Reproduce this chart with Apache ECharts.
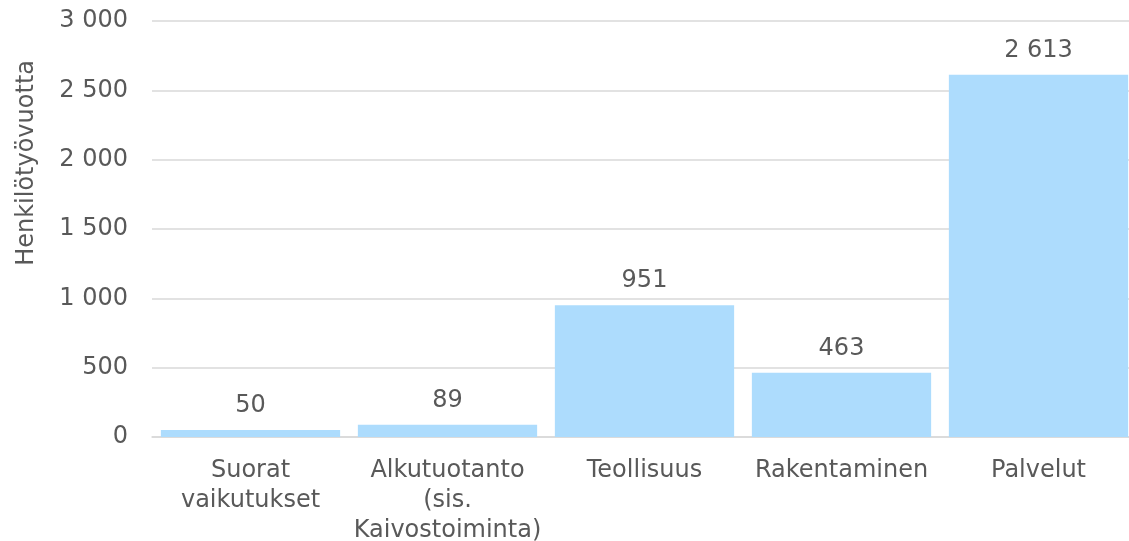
<!DOCTYPE html>
<html>
<head>
<meta charset="utf-8">
<script src="https://cdn.jsdelivr.net/npm/echarts@6.0.0/dist/echarts.min.js"></script>
<style>
  html, body { margin: 0; padding: 0; background: #fff; }
  #chart { width: 1129px; height: 541px; }
</style>
</head>
<body>
<div id="chart"></div>
<script>
// Luokat ja arvot (henkilötyövuotta)
const categories = ['Suorat\nvaikutukset', 'Alkutuotanto\n(sis.\nKaivostoiminta)', 'Teollisuus', 'Rakentaminen', 'Palvelut'];
const values = [50, 89, 951, 463, 2613];
const yTicks = [0, 500, 1000, 1500, 2000, 2500, 3000];
const yTitle = 'Henkilötyövuotta';

const FONT = '"DejaVu Sans", Verdana, sans-serif';
const TEXT = '#595959';
const SIZE = 24;

// tuhaterotin välilyönnillä
const fmt = v => String(v).replace(/\B(?=(\d{3})+(?!\d))/g, ' ');

const chart = echarts.init(document.getElementById('chart'));
chart.setOption({
  animation: false,
  // oikea reuna jatkuu hieman kuvan ulkopuolelle kuten alkuperäisessä
  grid: { left: 152, right: -8, top: 21, bottom: 104, outerBoundsMode: 'none' },
  graphic: [{
    type: 'text',
    left: 15,
    top: 60,
    rotation: Math.PI / 2,
    style: { text: yTitle, fill: TEXT, font: SIZE + 'px ' + FONT }
  }],
  xAxis: {
    type: 'category',
    data: categories,
    axisTick: { show: false },
    axisLine: { lineStyle: { color: '#d9d9d9', width: 1.5 } },
    axisLabel: { color: TEXT, fontFamily: FONT, fontSize: SIZE, lineHeight: 30, margin: 19, interval: 0 }
  },
  yAxis: {
    type: 'value',
    min: yTicks[0],
    max: yTicks[yTicks.length - 1],
    interval: 500,
    axisLine: { show: false },
    axisTick: { show: false },
    axisLabel: { color: TEXT, fontFamily: FONT, fontSize: SIZE, margin: 24, formatter: fmt },
    splitLine: { lineStyle: { color: '#d9d9d9', width: 1.5 } }
  },
  series: [{
    type: 'bar',
    data: values,
    barCategoryGap: '9%',
    itemStyle: { color: '#addcfd' },
    label: {
      show: true,
      position: 'top',
      distance: 12,
      color: TEXT,
      fontFamily: FONT,
      fontSize: SIZE,
      formatter: p => fmt(p.value)
    }
  }]
});
</script>
</body>
</html>
